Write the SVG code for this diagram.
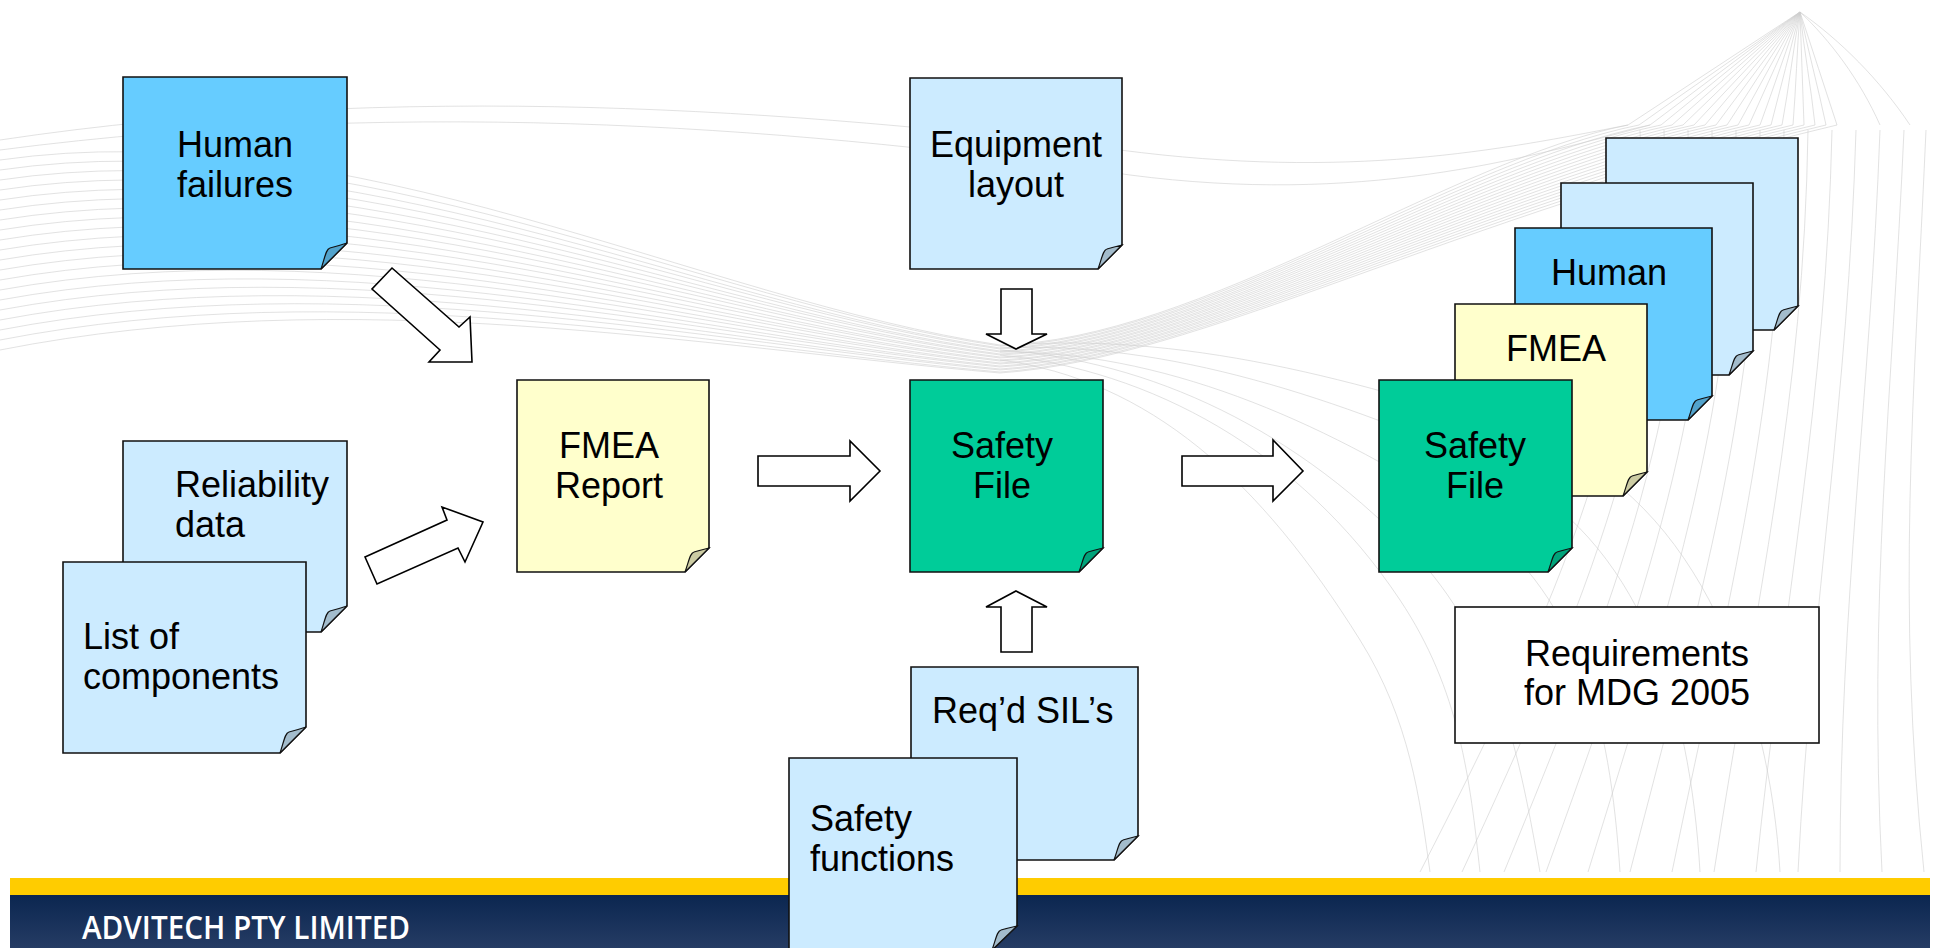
<svg xmlns="http://www.w3.org/2000/svg" width="1934" height="948" viewBox="0 0 1934 948">
<defs>
<linearGradient id="navy" x1="0" y1="0" x2="0" y2="1">
<stop offset="0" stop-color="#0b2650"/>
<stop offset="1" stop-color="#253c64"/>
</linearGradient>
<style>
.bg path{fill:none;stroke:#cfcfcf;stroke-width:1;opacity:0.6}
.note{stroke:#111;stroke-width:1.6;stroke-linejoin:miter}
.fold{stroke:#111;stroke-width:1.2}
.lb{fill:#CCEBFF}.lbf{fill:#A3BCCC}
.hb{fill:#66CCFF}.hbf{fill:#52A3CC}
.yl{fill:#FFFFCC}.ylf{fill:#CCCCA3}
.gr{fill:#00CC99}.grf{fill:#00A37A}
.t{font-family:"Liberation Sans",Arial,sans-serif;font-size:36px;fill:#000}
.c{text-anchor:middle}
.arrow{fill:#fff;stroke:#000;stroke-width:1.6;stroke-linejoin:miter}
</style>
</defs>
<rect width="1934" height="948" fill="#fff"/>
<g class="bg" id="background">
<path d="M0,160 C350,110 700,300 1000,345 C1200,340 1450,160 1628,125 C1685,87 1743,50 1800,12"/>
<path d="M0,170 C350,119 700,302 1000,346 C1200,341 1450,163 1639,125 C1692,87 1747,50 1800,12"/>
<path d="M0,180 C350,128 700,305 1000,348 C1200,342 1450,166 1650,125 C1700,87 1750,50 1800,12"/>
<path d="M0,190 C350,137 700,307 1000,349 C1200,343 1450,169 1661,125 C1707,87 1754,50 1800,12"/>
<path d="M0,200 C350,146 700,310 1000,351 C1200,344 1450,172 1672,125 C1715,87 1757,50 1800,12"/>
<path d="M0,210 C350,155 700,312 1000,352 C1200,345 1450,175 1683,125 C1722,87 1761,50 1800,12"/>
<path d="M0,220 C350,164 700,315 1000,354 C1200,346 1450,178 1694,125 C1729,87 1765,50 1800,12"/>
<path d="M0,230 C350,173 700,317 1000,355 C1200,347 1450,181 1705,125 C1737,87 1768,50 1800,12"/>
<path d="M0,240 C350,182 700,320 1000,357 C1200,348 1450,184 1716,125 C1744,87 1772,50 1800,12"/>
<path d="M0,250 C350,191 700,322 1000,358 C1200,349 1450,187 1727,125 C1752,87 1775,50 1800,12"/>
<path d="M0,260 C350,200 700,325 1000,360 C1200,350 1450,190 1738,125 C1759,87 1779,50 1800,12"/>
<path d="M0,270 C350,209 700,327 1000,361 C1200,351 1450,193 1749,125 C1766,87 1783,50 1800,12"/>
<path d="M0,280 C350,218 700,330 1000,363 C1200,352 1450,196 1760,125 C1774,87 1786,50 1800,12"/>
<path d="M0,290 C350,227 700,332 1000,364 C1200,353 1450,199 1771,125 C1781,87 1790,50 1800,12"/>
<path d="M0,300 C350,236 700,335 1000,366 C1200,354 1450,202 1782,125 C1789,87 1793,50 1800,12"/>
<path d="M0,310 C350,245 700,337 1000,367 C1200,355 1450,205 1793,125 C1796,87 1797,50 1800,12"/>
<path d="M0,320 C350,254 700,340 1000,369 C1200,356 1450,208 1804,125 C1803,87 1801,50 1800,12"/>
<path d="M0,330 C350,263 700,342 1000,370 C1200,357 1450,211 1815,125 C1811,87 1804,50 1800,12"/>
<path d="M0,340 C350,272 700,345 1000,372 C1200,358 1450,214 1826,125 C1818,87 1808,50 1800,12"/>
<path d="M0,350 C350,281 700,347 1000,373 C1200,359 1450,217 1837,125 C1825,87 1812,50 1800,12"/>
<path d="M0,140 C400,80 800,110 1120,150 C1350,180 1500,150 1628,125"/>
<path d="M0,150 C420,95 820,130 1130,175 C1360,205 1520,160 1650,125"/>
<path d="M1000,350 C1150,360 1300,430 1420,560 C1500,650 1520,760 1540,872"/>
<path d="M1000,355 C1150,370 1300,450 1400,600 C1460,690 1470,780 1480,872"/>
<path d="M1000,360 C1150,380 1260,480 1360,640 C1410,720 1420,800 1430,872"/>
<path d="M1000,352 C1160,350 1320,420 1460,510 C1580,590 1610,720 1620,872"/>
<path d="M1000,348 C1170,340 1340,400 1500,470 C1640,540 1690,700 1700,872"/>
<path d="M1000,346 C1180,330 1360,380 1540,440 C1700,500 1770,700 1780,872"/>
<path d="M1800,12 C1830,40 1860,80 1880,125"/>
<path d="M1800,12 C1840,40 1880,80 1910,125"/>
<path d="M1640,130 C1650,400 1560,600 1420,872"/>
<path d="M1664,130 C1672,400 1588,600 1462,872"/>
<path d="M1688,130 C1694,400 1616,600 1504,872"/>
<path d="M1712,130 C1716,400 1644,600 1546,872"/>
<path d="M1736,130 C1738,400 1672,600 1588,872"/>
<path d="M1760,130 C1760,400 1700,600 1630,872"/>
<path d="M1784,130 C1782,400 1728,600 1672,872"/>
<path d="M1808,130 C1804,400 1756,600 1714,872"/>
<path d="M1832,130 C1826,400 1784,600 1756,872"/>
<path d="M1856,130 C1848,400 1812,600 1798,872"/>
<path d="M1880,130 C1870,400 1840,600 1840,872"/>
<path d="M1904,130 C1892,400 1868,600 1882,872"/>
<path d="M1926,130 C1914,400 1896,600 1924,872"/>
</g>
<g id="footer">
<rect x="10" y="878" width="1920" height="17" fill="#FFCC00"/>
<rect x="10" y="895" width="1920" height="53" fill="url(#navy)"/>
<text x="82" y="939" font-family="'Open Sans',sans-serif" font-weight="600" font-size="33" fill="#fff" textLength="328" lengthAdjust="spacingAndGlyphs">ADVITECH PTY LIMITED</text>
</g>
<g id="connectors">
<polygon class="arrow" points="392,268 459,327 470,317 472,362 429,362 440,350 372,289"/>
<polygon class="arrow" points="365,557 447,520 442,507 483,522 465,562 458,548 377,584"/>
<polygon class="arrow" points="758,456 850,456 850,441 880,471 850,501 850,486 758,486"/>
<polygon class="arrow" points="1001,289 1032,289 1032,334 1047,334 1016,349 986,334 1001,334"/>
<polygon class="arrow" points="1016,591 1047,607 1032,607 1032,652 1001,652 1001,607 986,607"/>
<polygon class="arrow" points="1182,456 1273,456 1273,440 1303,471 1273,501 1273,486 1182,486"/>
</g>
<g id="human-failures">
<path class="note hb" d="M123,77 H347 V243 L321,269 H123 Z"/>
<path class="fold hbf" d="M321,269 C325,257 326,249 330,248 Q338,246 347,243 Z"/>
<text class="t c" x="235" y="157">Human</text>
<text class="t c" x="235" y="197">failures</text>
</g>
<g id="reliability-data">
<path class="note lb" d="M123,441 H347 V606 L321,632 H123 Z"/>
<path class="fold lbf" d="M321,632 C325,620 326,612 330,611 Q338,609 347,606 Z"/>
<text class="t" x="175" y="497">Reliability</text>
<text class="t" x="175" y="537">data</text>
</g>
<g id="list-of-components">
<path class="note lb" d="M63,562 H306 V727 L280,753 H63 Z"/>
<path class="fold lbf" d="M280,753 C284,741 285,733 289,732 Q297,730 306,727 Z"/>
<text class="t" x="83" y="649">List of</text>
<text class="t" x="83" y="689">components</text>
</g>
<g id="equipment-layout">
<path class="note lb" d="M910,78 H1122 V245 L1098,269 H910 Z"/>
<path class="fold lbf" d="M1098,269 C1102,258 1103,250 1107,249 Q1114,247 1122,245 Z"/>
<text class="t c" x="1016" y="157">Equipment</text>
<text class="t c" x="1016" y="197">layout</text>
</g>
<g id="fmea-report">
<path class="note yl" d="M517,380 H709 V548 L685,572 H517 Z"/>
<path class="fold ylf" d="M685,572 C689,561 690,553 694,552 Q701,550 709,548 Z"/>
<text class="t c" x="609" y="458">FMEA</text>
<text class="t c" x="609" y="498">Report</text>
</g>
<g id="safety-file">
<path class="note gr" d="M910,380 H1103 V548 L1079,572 H910 Z"/>
<path class="fold grf" d="M1079,572 C1083,561 1084,553 1088,552 Q1095,550 1103,548 Z"/>
<text class="t c" x="1002" y="458">Safety</text>
<text class="t c" x="1002" y="498">File</text>
</g>
<g id="reqd-sils">
<path class="note lb" d="M911,667 H1138 V836 L1114,860 H911 Z"/>
<path class="fold lbf" d="M1114,860 C1118,849 1119,841 1123,840 Q1130,838 1138,836 Z"/>
<text class="t" x="932" y="723">Req’d SIL’s</text>
</g>
<g id="safety-functions">
<path class="note lb" d="M789,758 H1017 V926 L992,950 H789 Z"/>
<path class="fold lbf" d="M992,950 C996,939 997,931 1001,930 Q1008,928 1017,926 Z"/>
<text class="t" x="810" y="831">Safety</text>
<text class="t" x="810" y="871">functions</text>
</g>
<g id="stack-5">
<path class="note lb" d="M1606,138 H1798 V306 L1774,330 H1606 Z"/>
<path class="fold lbf" d="M1774,330 C1778,319 1779,311 1783,310 Q1790,308 1798,306 Z"/>
</g>
<g id="stack-4">
<path class="note lb" d="M1561,183 H1753 V351 L1729,375 H1561 Z"/>
<path class="fold lbf" d="M1729,375 C1733,364 1734,356 1738,355 Q1745,353 1753,351 Z"/>
</g>
<g id="stack-human">
<path class="note hb" d="M1515,228 H1712 V396 L1688,420 H1515 Z"/>
<path class="fold hbf" d="M1688,420 C1692,409 1693,401 1697,400 Q1704,398 1712,396 Z"/>
<text class="t c" x="1609" y="285">Human</text>
</g>
<g id="stack-fmea">
<path class="note yl" d="M1455,304 H1647 V472 L1623,496 H1455 Z"/>
<path class="fold ylf" d="M1623,496 C1627,485 1628,477 1632,476 Q1639,474 1647,472 Z"/>
<text class="t c" x="1556" y="361">FMEA</text>
</g>
<g id="stack-safety-file">
<path class="note gr" d="M1379,380 H1572 V548 L1548,572 H1379 Z"/>
<path class="fold grf" d="M1548,572 C1552,561 1553,553 1557,552 Q1564,550 1572,548 Z"/>
<text class="t c" x="1475" y="458">Safety</text>
<text class="t c" x="1475" y="498">File</text>
</g>
<g id="requirements">
<rect class="note" x="1455" y="607" width="364" height="136" fill="#fff"/>
<text class="t c" x="1637" y="666">Requirements</text>
<text class="t c" x="1637" y="705">for MDG 2005</text>
</g>
</svg>
